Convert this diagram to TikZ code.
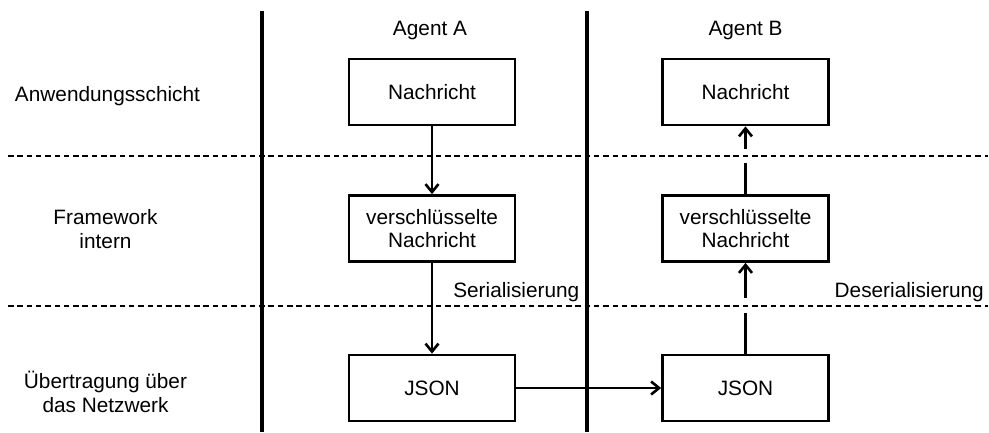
\documentclass[tikz,border=0pt]{standalone}
\usepackage{fontspec}
\setmainfont{Liberation Sans}
\usetikzlibrary{arrows.meta}

\begin{document}
\begin{tikzpicture}[x=1pt,y=-1pt,
  every node/.style={font=\fontsize{20.8}{23.5}\selectfont, inner sep=0pt, align=center},
  msgbox/.style={draw, line width=2.7pt, minimum width=166pt, minimum height=66pt},
  lane/.style={line width=4pt},
  layer/.style={line width=1.4pt, dash pattern=on 5.5pt off 3.8pt},
  flow/.style={line width=2.6pt, -{Straight Barb[length=8pt,width=13pt,line width=2.6pt]}},
  flowplain/.style={line width=2.6pt}
]
\useasboundingbox (0,0) rectangle (989,432);

% agent lanes
\coordinate (laneAtop) at (262,11);
\coordinate (laneAbot) at (262,432);
\coordinate (laneBtop) at (586.5,11);
\coordinate (laneBbot) at (586.5,432);
\draw[lane] (laneAtop) -- (laneAbot);
\draw[lane] (laneBtop) -- (laneBbot);

% layer separators
\coordinate (sep1l) at (8,156);
\coordinate (sep1r) at (988,156);
\coordinate (sep2l) at (8,306);
\coordinate (sep2r) at (988,306);
\draw[layer] (sep1l) -- (sep1r);
\draw[layer] (sep2l) -- (sep2r);

% headings
\node (hA) at (430,30) {Agent A};
\node (hB) at (745.5,30) {Agent B};

% layer labels
\node (l1) at (107.5,96) {Anwendungsschicht};
\node (l2) at (105.5,229) {Framework\\intern};
\node (l3) at (105.5,392) {Übertragung über\\das Netzwerk};

% boxes of agent A
\node[msgbox] (a1) at (432,92) {Nachricht};
\node[msgbox] (a2) at (432,228.5) {verschlüsselte\\Nachricht};
\node[msgbox] (a3) at (432,388) {JSON};

% boxes of agent B
\node[msgbox] (b1) at (745.5,92) {Nachricht};
\node[msgbox] (b2) at (745.5,228.5) {verschlüsselte\\Nachricht};
\node[msgbox] (b3) at (745.5,388) {JSON};

% step labels
\node[anchor=east] (ser) at (579.5,292) {Serialisierung};
\node[anchor=east] (deser) at (984,292) {Deserialisierung};

% sending side
\draw[flow] (a1) -- (a2);
\draw[flow] (a2) -- (a3);
\draw[flow] (a3) -- (b3);

% receiving side, broken where it meets the separators
\coordinate (g2lo) at (745.5,313);
\coordinate (g2hi) at (745.5,298);
\coordinate (g1lo) at (745.5,163);
\coordinate (g1hi) at (745.5,149);
\draw[flowplain] (b3.north) -- (g2lo);
\draw[flow] (g2hi) -- (b2.south);
\draw[flowplain] (b2.north) -- (g1lo);
\draw[flow] (g1hi) -- (b1.south);
\end{tikzpicture}
\end{document}
